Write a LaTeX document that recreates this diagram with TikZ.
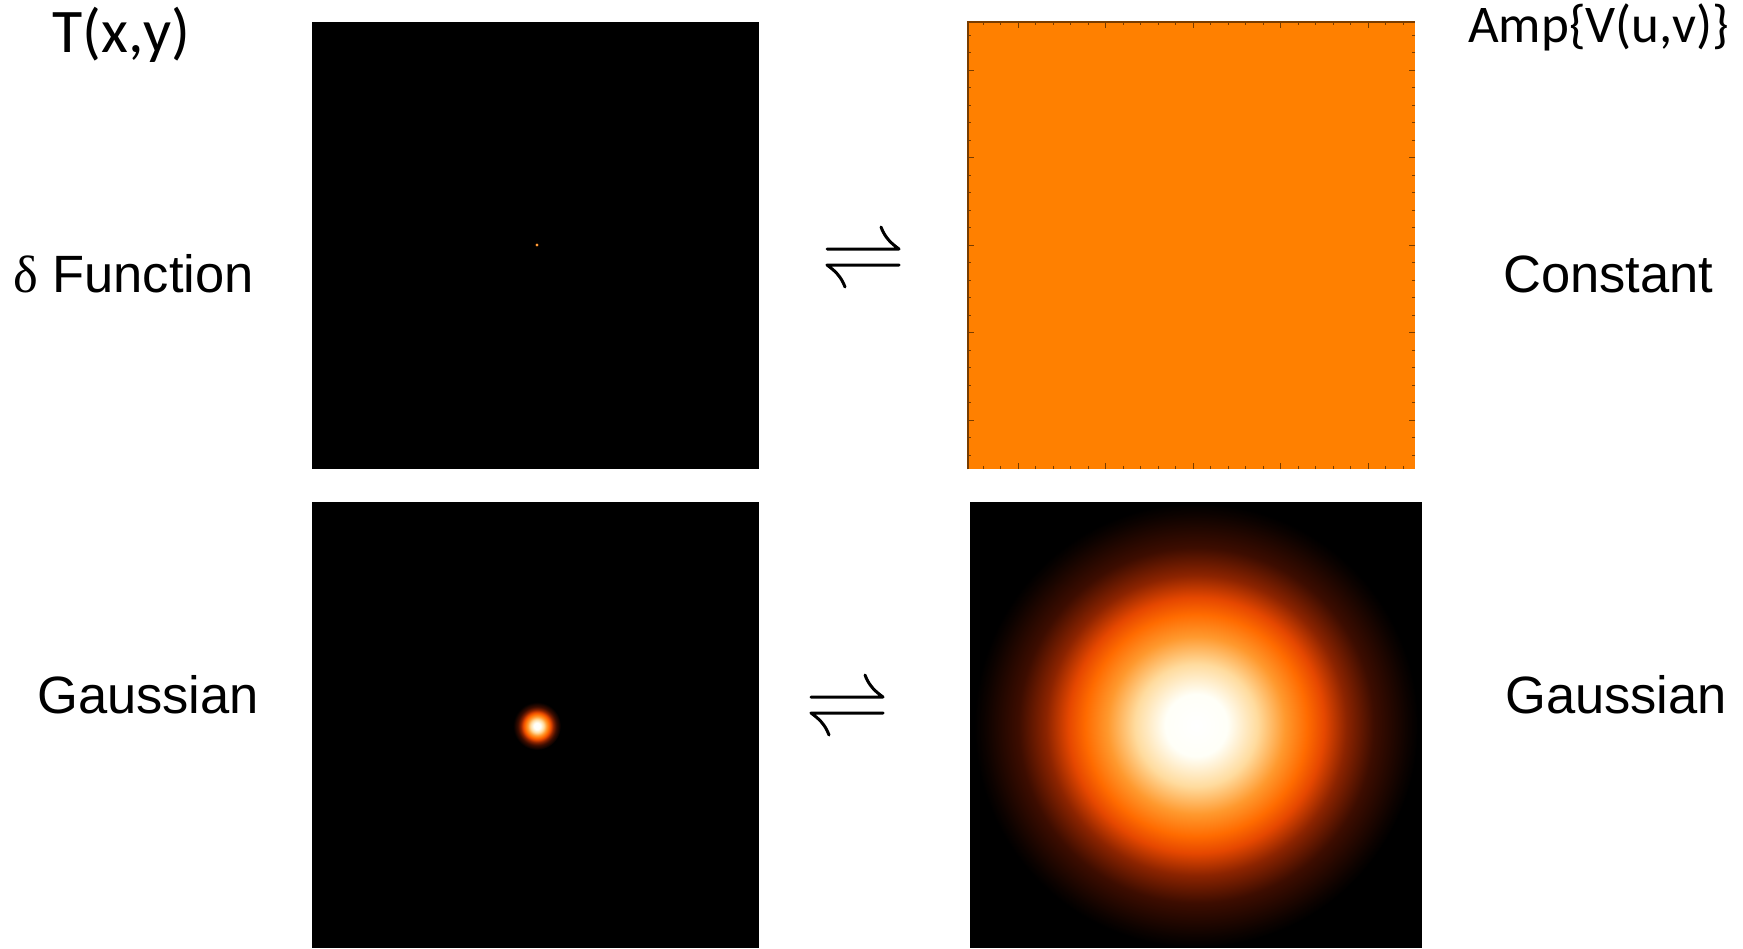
\documentclass[tikz,border=0pt]{standalone}
\usepackage{fontspec}
\setmainfont{Liberation Sans}
\newfontfamily\calibrifont{Carlito}
\newfontfamily\symbolfont{Liberation Serif}
\definecolor{ampOrange}{RGB}{255,128,0}
\definecolor{tickBrown}{RGB}{120,60,0}
% hot colour map for the Gaussian blobs
\pgfdeclareradialshading{hotgauss}{\pgfpoint{0bp}{0bp}}{%
  rgb(0bp)=(1,1,1);
  rgb(3.5bp)=(1,1,0.97);
  rgb(6.9bp)=(1,0.86,0.62);
  rgb(10bp)=(1,0.6,0.18);
  rgb(12.5bp)=(1,0.42,0);
  rgb(14.4bp)=(0.9,0.28,0);
  rgb(16.9bp)=(0.55,0.14,0);
  rgb(20bp)=(0.24,0.05,0);
  rgb(23.8bp)=(0.05,0.01,0);
  rgb(25bp)=(0,0,0);
  rgb(50bp)=(0,0,0)}
\begin{document}
\begin{tikzpicture}[x=1pt, y=-1pt,
    textlabel/.style={inner sep=0pt, anchor=base west, font=\fontsize{52.5}{60}\selectfont},
    axislabel/.style={inner sep=0pt, anchor=base west},
    imgpanel/.style={draw=none, inner sep=0pt, minimum width=447pt, minimum height=447pt, anchor=north west},
    harp/.style={line width=3pt, line cap=round, line join=round},
    axtick/.style={draw=tickBrown, line width=0.8pt}]
    \useasboundingbox (0,0) rectangle (1743,948);

    % Place the image panels
    \node[imgpanel, fill=black] (deltaimg) at (312,22) {};
    \node[imgpanel, fill=ampOrange] (constimg) at (968,22) {};
    \node[imgpanel, fill=black, minimum height=446pt] (gaussimg) at (312,502) {};
    \node[imgpanel, fill=black, minimum width=452pt, minimum height=446pt] (gaussvis) at (970,502) {};

    % Delta function point
    \coordinate (deltapt) at (537,245);
    \fill[ampOrange] (deltapt) circle[radius=1.6pt];
    \fill[white] (deltapt) circle[radius=0.7pt];

    % Gaussian blobs
    \coordinate (smallgauss) at (537,726);
    \shade[shading=hotgauss] (smallgauss) circle[radius=24pt];
    \shade[shading=hotgauss] (gaussvis.center) circle[radius=222pt];

    % Ticks of the constant panel
    \draw[draw=tickBrown, line width=1.2pt] (constimg.south west) -- (constimg.north west) -- (constimg.north east);
    \foreach \k in {0,...,24} {
        \pgfmathsetmacro\tx{983+17.5*\k}
        \pgfmathsetmacro\ty{35+17.5*\k}
        \pgfmathsetmacro\tl{ifthenelse(mod(\k,5)==2,6,3)}
        \draw[axtick] (\tx,22) -- ++(0,\tl);
        \draw[axtick] (\tx,469) -- ++(0,-\tl);
        \draw[axtick] (968,\ty) -- ++(\tl,0);
        \draw[axtick] (1415,\ty) -- ++(-\tl,0);
    }

    % Draw the harpoons
    \begin{scope}[shift={(863,257)}]
        \draw[harp] (-36,-8) -- (36,-8) .. controls (29,-13) and (22,-19) .. (18,-30);
        \draw[harp] (36,8) -- (-36,8) .. controls (-29,13) and (-22,19) .. (-18,30);
    \end{scope}
    \begin{scope}[shift={(847,705)}]
        \draw[harp] (-36,-8) -- (36,-8) .. controls (29,-13) and (22,-19) .. (18,-30);
        \draw[harp] (36,8) -- (-36,8) .. controls (-29,13) and (-22,19) .. (-18,30);
    \end{scope}

    % Add the labels
    \node[axislabel, font=\calibrifont\fontsize{62}{70}\selectfont] (tlabel) at (52,52) {T(x,y)};
    \node[axislabel, font=\calibrifont\fontsize{53}{60}\selectfont] (amplabel) at (1468,42) {Amp\{V(u,v)\}};
    \node[textlabel] (deltalabel) at (13,292) {{\symbolfont δ} Function};
    \node[textlabel] (gausslabel) at (37,713) {Gaussian};
    \node[textlabel] (constlabel) at (1503,292) {Constant};
    \node[textlabel] (visgausslabel) at (1505,713) {Gaussian};
\end{tikzpicture}
\end{document}
